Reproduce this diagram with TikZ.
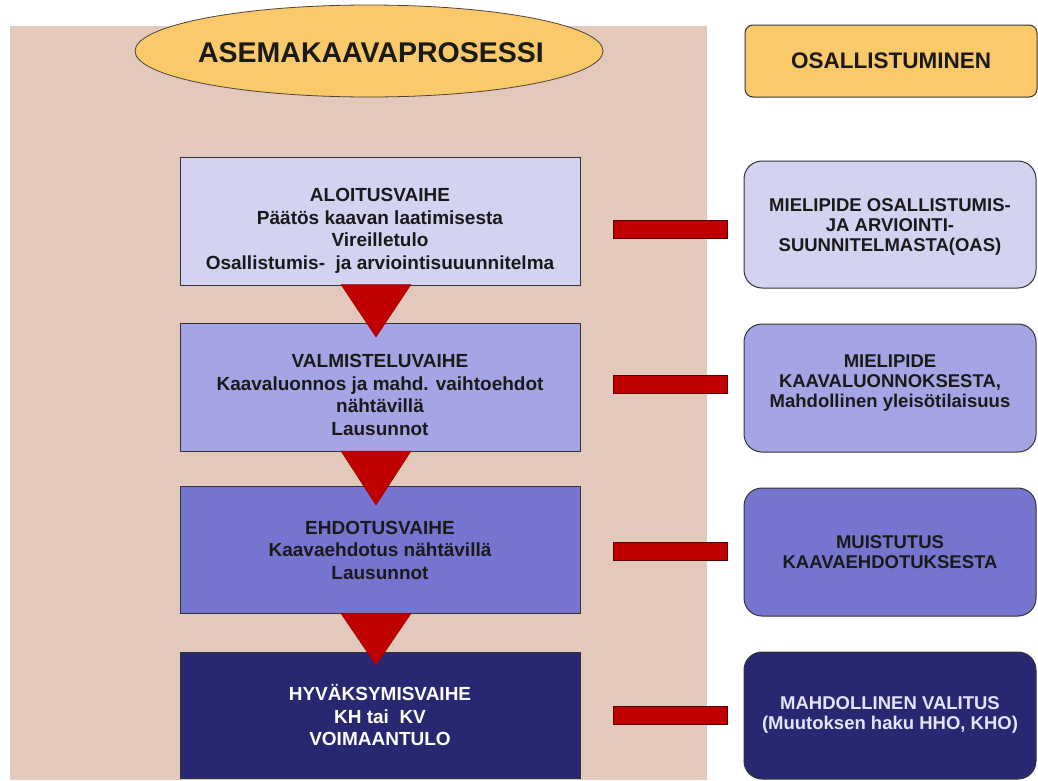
\documentclass[tikz,border=0pt]{standalone}
\usepackage{fontspec}
\setmainfont{Liberation Sans}
\usetikzlibrary{shapes.geometric}
\definecolor{beige}{HTML}{E3C9BB}
\definecolor{gold}{HTML}{F9C96A}
\definecolor{lavA}{HTML}{D3D3F1}
\definecolor{lavB}{HTML}{A5A5E5}
\definecolor{lavC}{HTML}{7575CF}
\definecolor{navy}{HTML}{272772}
\definecolor{redd}{HTML}{C00000}
\definecolor{reddark}{HTML}{5C0000}
\definecolor{edge}{HTML}{333333}
\definecolor{ink}{HTML}{1A1A1A}
\begin{document}
\begin{tikzpicture}[x=1pt,y=-1pt,
 stage/.style={draw=edge, line width=1pt, minimum width=400pt, minimum height=128pt, inner sep=0pt, outer sep=0pt},
 part/.style={draw=edge, line width=1pt, rounded corners=18pt, minimum width=292pt, minimum height=127pt, inner sep=0pt, outer sep=0pt},
 ltext/.style={align=center, font=\bfseries\fontsize{19}{22.5}\selectfont, text=ink, inner sep=0pt},
 rtext/.style={align=center, font=\bfseries\fontsize{18.5}{20}\selectfont, text=ink, inner sep=0pt},
 barbox/.style={fill=redd, draw=reddark, line width=0.8pt, minimum width=114pt, minimum height=18pt, inner sep=0pt},
 tri/.style={fill=redd, draw=redd!80!black, line width=0.5pt}
]
\useasboundingbox (0,0) rectangle (1038,780);
\fill[white] (0,0) rectangle (1038,780);
\fill[beige] (10,26) rectangle (707,780);

% header
\node[ellipse, draw=edge!80!brown, line width=0.8pt, fill=gold, minimum width=468pt, minimum height=92pt, inner sep=0pt] (head) at (369,51) {};
\node[font=\bfseries\fontsize{28.5}{30}\selectfont, text=ink, inner sep=0pt] (headtxt) at ([xshift=2pt,yshift=-2pt]head.center) {ASEMAKAAVAPROSESSI};
\node[draw=edge, line width=1pt, rounded corners=8pt, fill=gold, minimum width=292pt, minimum height=72pt, inner sep=0pt,
      font=\bfseries\fontsize{22.5}{24}\selectfont, text=ink] (osa) at (891,61) {OSALLISTUMINEN};

% process stages
\node[stage, fill=lavA] (L1) at (380,221) {};
\node[stage, fill=lavB] (L2) at (380,387) {};
\node[stage, fill=lavC, minimum height=127pt] (L3) at (380,550) {};
\node[stage, fill=navy, minimum height=126pt] (L4) at (380,715) {};

\node[ltext] (t1) at ([yshift=-10pt]L1.center) {ALOITUSVAIHE\\Päätös kaavan laatimisesta\\Vireilletulo\\Osallistumis-~ ja arviointisuuunnitelma};
\node[ltext] (t2) at ([yshift=-8pt]L2.center) {VALMISTELUVAIHE\\Kaavaluonnos ja mahd. vaihtoehdot\\nähtävillä\\Lausunnot};
\node[ltext] (t3) at (L3.center) {EHDOTUSVAIHE\\Kaavaehdotus nähtävillä\\Lausunnot};
\node[ltext, text=white] (t4) at (L4.center) {HYVÄKSYMISVAIHE\\KH tai~ KV\\VOIMAANTULO};

% participation boxes
\node[part, fill=lavA] (R1) at (890,224.5) {};
\node[part, fill=lavB, minimum height=128pt] (R2) at (890,388) {};
\node[part, fill=lavC, minimum height=128pt] (R3) at (890,552) {};
\node[part, fill=navy] (R4) at (890,715.5) {};

\node[rtext] (r1) at ([yshift=-2pt]R1.center) {MIELIPIDE OSALLISTUMIS-\\JA ARVIOINTI-\\SUUNNITELMASTA(OAS)};
\node[rtext] (r2) at ([yshift=5pt]R2.center) {MIELIPIDE\\KAAVALUONNOKSESTA,\\Mahdollinen yleisötilaisuus};
\node[rtext] (r3) at (R3.center) {MUISTUTUS\\KAAVAEHDOTUKSESTA};
\node[rtext, text=white!90!blue] (r4) at ([yshift=1pt]R4.center) {MAHDOLLINEN VALITUS\\(Muutoksen haku HHO, KHO)};

% red bars
\node[barbox] (b1) at (670,229) {};
\node[barbox] (b2) at (670,384) {};
\node[barbox] (b3) at (670,551.5) {};
\node[barbox] (b4) at (670,715) {};

% triangles between stages
\draw[tri] (341,284.5) -- (411,284.5) -- (376,337) -- cycle;
\draw[tri] (341,451) -- (411,451) -- (376,505) -- cycle;
\draw[tri] (341,613.5) -- (411,613.5) -- (376,665) -- cycle;
\end{tikzpicture}
\end{document}
